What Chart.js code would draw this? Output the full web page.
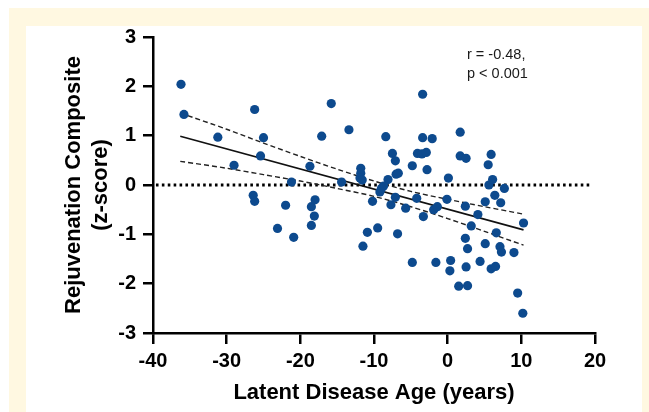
<!DOCTYPE html>
<html>
<head>
<meta charset="utf-8">
<title>Rejuvenation Composite vs Latent Disease Age</title>
<script src="https://cdn.jsdelivr.net/npm/chart.js@4.4.1/dist/chart.umd.min.js"></script>
<style>
  html, body { margin: 0; padding: 0; background: #ffffff; }
  #frame { position: absolute; left: 9px; top: 8px; width: 640px; height: 404px; background: #fff8e1; }
  #panel { position: absolute; left: 26px; top: 26px; width: 616px; height: 386px; background: #ffffff; }
  #chart { position: absolute; left: 0; top: 0; }
</style>
</head>
<body>
<div id="frame"></div>
<div id="panel"></div>
<canvas id="chart" width="649" height="412"></canvas>
<script>
// Scatter values
const diseaseAge = [
    -36.2, -35.8, -31.2, -29.0, -26.2, -26.4, -26.2, -25.0, -25.4, -23.1,
    -22.0, -21.2, -20.9, -18.7, -18.5, -18.5, -18.1, -18.0, -17.1, -15.8,
    -14.4, -13.4, -11.8, -11.8, -11.9, -11.6, -11.5, -10.9, -10.2, -9.5,
    -9.2, -9.0, -8.4, -8.1, -8.7, -7.7, -7.5, -7.1, -7.1, -7.0,
    -6.7, -6.8, -5.7, -4.8, -4.8, -4.2, -4.1, -3.5, -3.4, -3.4,
    -2.9, -2.8, -3.3, -2.1, -1.9, -1.4, -1.6, 0.1, -0.1, 0.4,
    0.3, 1.7, 1.7, 2.5, 1.5, 2.7, 2.4, 2.4, 2.7, 2.5,
    3.2, 4.1, 4.4, 5.1, 5.1, 5.5, 5.9, 5.6, 6.1, 6.4,
    5.9, 6.5, 6.6, 7.2, 7.7, 7.1, 7.3, 9.0, 9.5, 10.2,
    10.3
];
const rejuvenation = [
    2.04, 1.43, 0.97, 0.40, 1.53, -0.21, -0.33, 0.96, 0.59, -0.88,
    -0.41, 0.06, -1.06, 0.38, -0.44, -0.82, -0.63, -0.30, 0.99, 1.65,
    0.06, 1.12, 0.34, 0.24, 0.14, 0.10, -1.24, -0.96, -0.33, -0.87,
    -0.14, -0.07, 0.98, 0.11, -0.02, -0.40, 0.64, 0.49, -0.25, 0.22,
    0.24, -0.99, -0.47, 0.39, -1.57, -0.27, 0.64, 0.63, 1.84, 0.96,
    0.66, 0.31, -0.64, 0.94, -0.50, -0.44, -1.57, 0.14, -0.29, -1.53,
    -1.74, 1.07, 0.59, 0.54, -2.05, -2.04, -0.43, -1.08, -1.29, -1.66,
    -0.83, -0.60, -1.55, -0.34, -1.19, 0.41, 0.62, 0.00, 0.11, -0.21,
    -1.70, -1.65, -0.97, -0.36, -0.07, -1.25, -1.36, -1.37, -2.19, -2.60,
    -0.77
];

// Regression line and its confidence band
const fitX = [-36.3, 10.3];
const fitY = [0.99, -0.91];
const bandX = [-36.3, -30, -25, -20, -15, -10, -5, 0, 5, 10.3];
const bandUpper = [1.46, 1.13, 0.85, 0.58, 0.32, 0.08, -0.13, -0.29, -0.44, -0.59];
const bandLower = [0.48, 0.34, 0.21, 0.08, -0.07, -0.23, -0.44, -0.68, -0.94, -1.22];

// Dotted zero reference
const zeroX = [-39.6, 19.5];
const zeroY = [0, 0];

const xTicks = [-40, -30, -20, -10, 0, 10, 20];
const yTicks = [-3, -2, -1, 0, 1, 2, 3];
const statLines = ['r = -0.48,', 'p < 0.001'];

const FONT = '"Liberation Sans", Arial, Helvetica, sans-serif';
const DOT_BLUE = '#0d4a8e';

const toPoints = (xs, ys) => xs.map((x, i) => ({ x: x, y: ys[i] }));

// writes the r / p values in the upper right
const statsLabel = {
    id: 'statsLabel',
    afterDraw(chart) {
        const ctx = chart.ctx;
        ctx.save();
        ctx.font = '14.5px ' + FONT;
        ctx.fillStyle = '#1a1a1a';
        ctx.textAlign = 'left';
        ctx.textBaseline = 'alphabetic';
        ctx.fillText(statLines[0], 467, 59);
        ctx.fillText(statLines[1], 467, 77.5);
        ctx.restore();
    }
};

const ctx = document.getElementById('chart').getContext('2d');
new Chart(ctx, {
    type: 'scatter',
    data: {
        datasets: [
            {
                label: 'Participants',
                data: toPoints(diseaseAge, rejuvenation),
                backgroundColor: DOT_BLUE,
                borderWidth: 0,
                pointRadius: 4.6,
                pointHoverRadius: 4.6
            },
            {
                type: 'line',
                label: 'Fit',
                data: toPoints(fitX, fitY),
                borderColor: '#111',
                borderWidth: 1.6,
                pointRadius: 0,
                fill: false
            },
            {
                type: 'line',
                label: 'Upper 95% CI',
                data: toPoints(bandX, bandUpper),
                borderColor: '#222',
                borderWidth: 1.4,
                borderDash: [5, 3],
                pointRadius: 0,
                tension: 0.3,
                fill: false
            },
            {
                type: 'line',
                label: 'Lower 95% CI',
                data: toPoints(bandX, bandLower),
                borderColor: '#222',
                borderWidth: 1.4,
                borderDash: [5, 3],
                pointRadius: 0,
                tension: 0.3,
                fill: false
            },
            {
                type: 'line',
                label: 'Zero',
                data: toPoints(zeroX, zeroY),
                borderColor: '#000',
                borderWidth: 3,
                borderDash: [2.6, 3.3],
                pointRadius: 0,
                fill: false
            }
        ]
    },
    options: {
        responsive: false,
        animation: false,
        layout: { padding: { top: 37, right: 54, left: 0, bottom: 0 } },
        plugins: {
            legend: { display: false },
            tooltip: { enabled: false }
        },
        scales: {
            x: {
                type: 'linear',
                min: -40,
                max: 20,
                afterFit(scale) { scale.height = 79; },
                afterBuildTicks(scale) { scale.ticks = xTicks.map(v => ({ value: v })); },
                border: { display: true, color: '#000', width: 2.5 },
                grid: { drawOnChartArea: false, drawTicks: true, tickLength: 11, color: '#000', lineWidth: 2.5 },
                ticks: {
                    color: '#000',
                    padding: 5,
                    font: { family: FONT, size: 20, weight: 'bold' }
                },
                title: {
                    display: true,
                    text: 'Latent Disease Age (years)',
                    color: '#000',
                    font: { family: FONT, size: 22, weight: 'bold', lineHeight: 1.2 },
                    padding: { top: 0, bottom: 6 }
                }
            },
            y: {
                type: 'linear',
                min: -3,
                max: 3,
                afterFit(scale) { scale.width = 153; },
                afterBuildTicks(scale) { scale.ticks = yTicks.map(v => ({ value: v })); },
                border: { display: true, color: '#000', width: 2.5 },
                grid: { drawOnChartArea: false, drawTicks: true, tickLength: 10, color: '#000', lineWidth: 2.5 },
                ticks: {
                    color: '#000',
                    padding: 7,
                    font: { family: FONT, size: 20, weight: 'bold' }
                },
                title: {
                    display: true,
                    text: ['Rejuvenation Composite', '(z-score)'],
                    color: '#000',
                    font: { family: FONT, size: 22, weight: 'bold', lineHeight: 1.2 },
                    padding: { top: 61, bottom: 0 }
                }
            }
        }
    },
    plugins: [statsLabel]
});
</script>
</body>
</html>
